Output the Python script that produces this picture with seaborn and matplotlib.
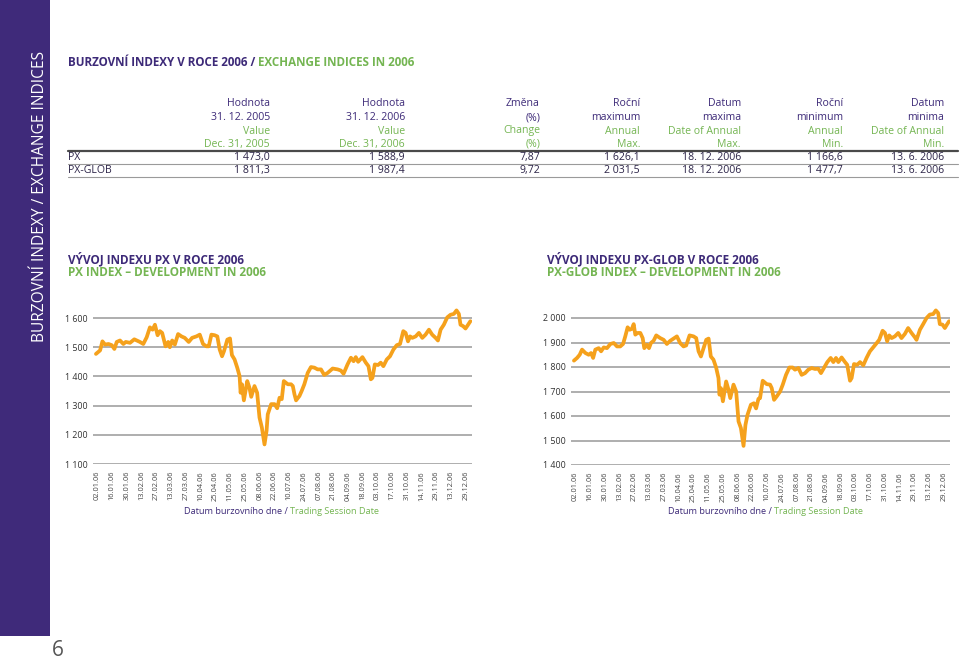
import matplotlib
matplotlib.use("Agg")
import matplotlib.pyplot as plt
from matplotlib.lines import Line2D
from matplotlib.patches import Rectangle
import pandas as pd
import seaborn as sns

# ---------------- data ----------------
px_session = [-1, 1.8, 3.4, 5.2, 7.5, 9.7, 11.5, 13.1, 15.3, 17.6, 19.2, 22.1, 25.0, 28.8, 31.1, 33.4,
              35.6, 37.4, 39.0, 40.8, 42.4, 43.9, 46.2, 48.0, 49.1, 50.7, 52.5, 54.7, 57.0, 59.2, 61.9,
              64.2, 67.1, 69.4, 71.6, 73.9, 75.5, 77.3, 79.5, 81.3, 82.9, 84.5, 85.8, 88.1, 89.9, 91.2,
              93.0, 94.8, 96.4, 97.1, 98.0, 99.3, 101.6, 103.1, 104.3, 106.5, 108.3, 109.9, 111.5, 113.3,
              114.7, 115.5, 117.8, 120.1, 121.9, 123.5, 125.0, 126.4, 129.1, 131.3, 132.5, 133.6, 134.7,
              137.0, 138.5, 140.3, 142.6, 144.8, 147.1, 149.3, 151.6, 153.8, 156.1, 159.5, 162.9, 165.1,
              166.9, 169.6, 171.9, 173.7, 175.2, 176.8, 179.7, 182.0, 183.8, 185.4, 186.5, 188.1, 190.3,
              192.1, 193.9, 196.2, 198.4, 200.7, 203.0, 205.2, 207.4, 209.0, 210.6, 212.0, 213.5, 215.8,
              218.0, 220.3, 222.5, 224.8, 227.0, 229.3, 230.9, 232.7, 234.9, 237.2, 239.4, 241.7, 243.5,
              245.1, 246.2, 248.0, 249.6, 251.1, 252.9]
px_value = [1477, 1489, 1520, 1509, 1511, 1507, 1494, 1518, 1523, 1511, 1518, 1515, 1527, 1518, 1511, 1534,
            1568, 1560, 1577, 1541, 1555, 1549, 1503, 1518, 1500, 1523, 1509, 1545, 1537, 1532, 1518,
            1532, 1537, 1543, 1511, 1503, 1503, 1543, 1541, 1537, 1492, 1469, 1486, 1526, 1530, 1473,
            1458, 1430, 1401, 1344, 1373, 1318, 1384, 1361, 1330, 1367, 1344, 1259, 1225, 1167,
            1214, 1270, 1305, 1305, 1291, 1327, 1322, 1384, 1373, 1373, 1367, 1339, 1318,
            1333, 1350, 1373, 1412, 1432, 1430, 1424, 1424, 1405, 1412, 1427, 1424, 1420,
            1409, 1441, 1464, 1452, 1466, 1450, 1466, 1447, 1435, 1390, 1395, 1441, 1439,
            1447, 1435, 1458, 1469, 1492, 1507, 1511, 1555, 1549, 1520, 1537, 1532, 1537,
            1549, 1532, 1543, 1560, 1543, 1532, 1523, 1560, 1577, 1602, 1611, 1614, 1626,
            1614, 1577, 1572, 1564, 1575, 1589]

glob_session = [-1, 1.1, 2.9, 4.5, 6.8, 9.0, 10.6, 12.0, 13.5, 15.8, 17.4, 19.2, 21.4, 23.7, 26.0, 28.2,
                30.4, 32.3, 33.8, 35.4, 36.8, 38.3, 39.5, 40.6, 42.2, 44.0, 45.6, 46.7, 48.5, 49.9, 51.2,
                53.0, 54.8, 57.5, 59.8, 62.0, 64.3, 67.0, 68.8, 71.0, 73.3, 75.1, 77.4, 80.1, 81.9, 83.5,
                85.1, 86.9, 88.7, 90.3, 91.8, 93.6, 95.4, 97.0, 97.7, 98.6, 100.0, 102.2, 103.8, 105.0,
                107.2, 109.0, 110.6, 112.2, 114.0, 115.3, 116.7, 119.0, 121.0, 122.5, 124.1, 125.2, 127.0,
                129.7, 132.0, 133.1, 134.7, 136.5, 138.8, 140.6, 142.8, 145.1, 147.3, 148.9, 151.2, 153.4,
                155.7, 157.9, 160.2, 162.5, 164.7, 166.5, 168.5, 170.8, 173.1, 174.9, 176.7, 178.3, 180.5,
                182.8, 184.3, 186.2, 187.3, 188.9, 191.1, 193.0, 195.2, 197.4, 199.7, 201.5, 203.8, 206.0,
                208.3, 209.9, 211.4, 212.8, 214.4, 216.6, 218.9, 221.1, 223.4, 225.6, 227.9, 230.2, 231.3,
                233.6, 235.8, 238.1, 240.3, 242.6, 244.4, 246.0, 247.1, 248.9, 250.5, 252.1, 253.4]
glob_value = [1826, 1837, 1850, 1871, 1857, 1850, 1857, 1837, 1871, 1877, 1864, 1880, 1877, 1894, 1898, 1884,
              1884, 1894, 1925, 1962, 1952, 1956, 1975, 1932, 1939, 1939, 1918, 1877, 1891, 1877, 1898,
              1907, 1929, 1918, 1911, 1894, 1907, 1918, 1925, 1898, 1884, 1888, 1929, 1925, 1918, 1864,
              1843, 1877, 1911, 1916, 1843, 1830, 1798, 1755, 1687, 1714, 1660, 1741, 1707, 1673,
              1728, 1700, 1578, 1551, 1478, 1564, 1605, 1646, 1652, 1631, 1670, 1673, 1744,
              1730, 1728, 1714, 1666, 1680, 1700, 1728, 1768, 1798, 1798, 1789, 1796, 1768,
              1775, 1789, 1796, 1792, 1793, 1775, 1796, 1820, 1837, 1820, 1837, 1820, 1839,
              1820, 1809, 1744, 1755, 1812, 1809, 1820, 1807, 1837, 1864, 1877, 1894, 1911,
              1948, 1939, 1905, 1929, 1918, 1925, 1939, 1918, 1935, 1959, 1939, 1921, 1911,
              1952, 1975, 2000, 2014, 2016, 2031, 2020, 1975, 1973, 1959, 1975, 1987]

tick_sessions = list(range(0, 251, 10))
tick_labels = ["02.01.06", "16.01.06", "30.01.06", "13.02.06", "27.02.06", "13.03.06", "27.03.06",
               "10.04.06", "25.04.06", "11.05.06", "25.05.06", "08.06.06", "22.06.06", "10.07.06",
               "24.07.06", "07.08.06", "21.08.06", "04.09.06", "18.09.06", "03.10.06", "17.10.06",
               "31.10.06", "14.11.06", "29.11.06", "13.12.06", "29.12.06"]
px_yticks = [1100, 1200, 1300, 1400, 1500, 1600]
px_yticklabels = ["1 100", "1 200", "1 300", "1 400", "1 500", "1 600"]
glob_yticks = [1400, 1500, 1600, 1700, 1800, 1900, 2000]
glob_yticklabels = ["1 400", "1 500", "1 600", "1 700", "1 800", "1 900", "2 000"]

header_cz = [["Hodnota", "31. 12. 2005"], ["Hodnota", "31. 12. 2006"], ["Změna", "(%)"],
             ["Roční", "maximum"], ["Datum", "maxima"], ["Roční", "minimum"], ["Datum", "minima"]]
header_en = [["Value", "Dec. 31, 2005"], ["Value", "Dec. 31, 2006"], ["Change", "(%)"],
             ["Annual", "Max."], ["Date of Annual", "Max."], ["Annual", "Min."], ["Date of Annual", "Min."]]
row_names = ["PX", "PX-GLOB"]
row_px = ["1 473,0", "1 588,9", "7,87", "1 626,1", "18. 12. 2006", "1 166,6", "13. 6. 2006"]
row_glob = ["1 811,3", "1 987,4", "9,72", "2 031,5", "18. 12. 2006", "1 477,7", "13. 6. 2006"]

# ---------------- style ----------------
sns.set_theme(style="white")
FONT = ["Open Sans", "DejaVu Sans"]
plt.rcParams["font.family"] = FONT

PURPLE = "#3d2a78"
GREEN = "#74b552"
ORANGE = "#f5a11c"
GRID = "#a8a8a8"
DARK = "#2c2448"

W, H = 960, 662
fig = plt.figure(figsize=(9.6, 6.62), dpi=100)


def fx(x):
    return x / W


def fy(y):
    return 1 - y / H


# sidebar
fig.add_artist(Rectangle((0, fy(636)), fx(50), 1 - fy(636), transform=fig.transFigure,
                         facecolor="#3f2a7a", edgecolor="none"))
fig.text(fx(40), fy(196), "BURZOVNÍ INDEXY / EXCHANGE INDICES", rotation=90, color="white",
         fontsize=11.2, ha="center", va="center")
fig.text(fx(52), fy(650), "6", color="#555555", fontsize=15, ha="left", va="center")

# title (two colours)
t1 = fig.text(fx(68), fy(62), "BURZOVNÍ INDEXY V ROCE 2006 / ", color=PURPLE, fontsize=8.4,
              fontweight="bold", ha="left", va="center")
fig.add_artist(matplotlib.text.Annotation("EXCHANGE INDICES IN 2006", xy=(1, 0.5), xycoords=t1,
                                          xytext=(0, 0), textcoords="offset points", color=GREEN,
                                          fontsize=8.4, fontweight="bold", ha="left", va="center"))

# table
col_right = [270, 405, 540, 640, 741, 843, 944]
hdr_y = [104, 117.5, 131, 144.5]
for i, xr in enumerate(col_right):
    for j, t in enumerate(header_cz[i]):
        fig.text(fx(xr), fy(hdr_y[j]), t, color=PURPLE, fontsize=7.6, ha="right", va="center")
    for j, t in enumerate(header_en[i]):
        fig.text(fx(xr), fy(hdr_y[2 + j]), t, color=GREEN, fontsize=7.6, ha="right", va="center")
for rowy, name, vals in [(157.5, row_names[0], row_px), (170.5, row_names[1], row_glob)]:
    fig.text(fx(68), fy(rowy), name, color=DARK, fontsize=7.6, ha="left", va="center")
    for xr, v in zip(col_right, vals):
        fig.text(fx(xr), fy(rowy), v, color=DARK, fontsize=7.6, ha="right", va="center")
fig.add_artist(Line2D([fx(68), fx(958)], [fy(151)] * 2, color="#4a4a4a", lw=1.6))
fig.add_artist(Line2D([fx(68), fx(958)], [fy(164)] * 2, color="#9a9a9a", lw=0.8))
fig.add_artist(Line2D([fx(68), fx(958)], [fy(177)] * 2, color="#9a9a9a", lw=0.8))

# chart subtitles
for x0, cz, en in [(68, "VÝVOJ INDEXU PX V ROCE 2006", "PX INDEX – DEVELOPMENT IN 2006"),
                   (547, "VÝVOJ INDEXU PX-GLOB V ROCE 2006", "PX-GLOB INDEX – DEVELOPMENT IN 2006")]:
    fig.text(fx(x0), fy(259), cz, color=PURPLE, fontsize=8.45, fontweight="bold",
             ha="left", va="center")
    fig.text(fx(x0), fy(272), en, color=GREEN, fontsize=8.45, fontweight="bold",
             ha="left", va="center")


def chart(left, right, y_low_px, y_top_grid_px, low, top_grid, top, sessions, values,
          yticks, yticklabels, split_x):
    ppu = (y_low_px - y_top_grid_px) / (top_grid - low)
    height = (top - low) * ppu
    ax = fig.add_axes([fx(left), fy(y_low_px), fx(right - left), height / H])
    df = pd.DataFrame({"session": sessions, "value": values})
    sns.lineplot(data=df, x="session", y="value", ax=ax, color=ORANGE, linewidth=2.7,
                 solid_joinstyle="round", solid_capstyle="round")
    ax.set_xlim(-3, 254)
    ax.set_ylim(low, top)
    ax.set_yticks(yticks)
    ax.set_yticklabels(yticklabels)
    ax.set_xticks(tick_sessions)
    ax.set_xticklabels(tick_labels, rotation=90)
    ax.set_xlabel("")
    ax.set_ylabel("")
    for s in ax.spines.values():
        s.set_visible(False)
    ax.grid(axis="y", color=GRID, linewidth=1.3)
    ax.grid(axis="x", visible=False)
    ax.set_axisbelow(True)
    ax.tick_params(axis="y", length=0, pad=4, labelsize=6.4, labelcolor="#333333")
    ax.tick_params(axis="x", length=0, pad=5, labelsize=5.4, labelcolor="#444444")
    ax.patch.set_alpha(0)
    # x-axis title (two colours)
    fig.text(fx(split_x), fy(511), "Datum burzovního dne / ", color=PURPLE, fontsize=6.6,
             ha="right", va="center")
    fig.text(fx(split_x), fy(511), "Trading Session Date", color=GREEN, fontsize=6.6,
             ha="left", va="center")
    return ax


chart(93, 472, 464, 318, 1100, 1600, 1650, px_session, px_value, px_yticks, px_yticklabels, 290)
chart(571, 950, 465, 318, 1400, 2000, 2060, glob_session, glob_value, glob_yticks,
      glob_yticklabels, 774)

fig.savefig("out.png", dpi=100, facecolor="white")
